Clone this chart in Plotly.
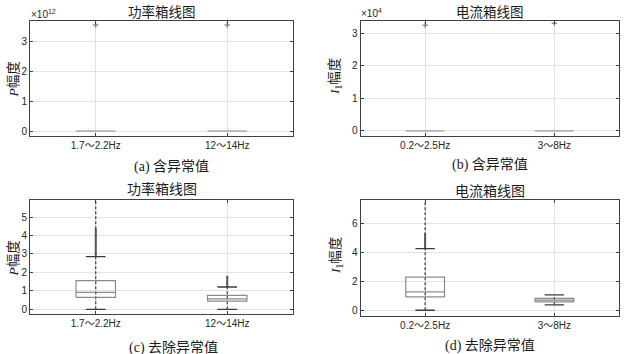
import plotly.graph_objects as go

# ---------------- data ----------------
p_categories = ["1.7～2.2Hz", "12～14Hz"]
i_categories = ["0.2～2.5Hz", "3～8Hz"]

# (a) power with outliers (axis scaled x1e12)
p_raw_q1 = [0.65, 0.44]
p_raw_med = [0.92, 0.57]
p_raw_q3 = [1.55, 0.76]
p_raw_lower = [0.0, 0.0]
p_raw_upper = [2.85, 1.21]
p_raw_outliers = [3.56e12, 3.56e12]

# (b) current with outliers (axis scaled x1e4)
i_raw_q1 = [0.92, 0.58]
i_raw_med = [1.27, 0.70]
i_raw_q3 = [2.30, 0.82]
i_raw_lower = [0.0, 0.37]
i_raw_upper = [4.27, 1.06]
i_raw_outliers = [3.25e4, 3.31e4]

# (c) power, outliers removed
p_q1 = [0.65, 0.44]
p_med = [0.92, 0.57]
p_q3 = [1.55, 0.76]
p_lower = [0.0, 0.0]
p_upper = [2.85, 1.21]
p_dense_max = [4.40, 1.82]
p_out_max = [6.10, 1.82]

# (d) current, outliers removed
i_q1 = [0.92, 0.58]
i_med = [1.27, 0.70]
i_q3 = [2.30, 0.82]
i_lower = [0.0, 0.37]
i_upper = [4.27, 1.06]
i_dense_max = [5.34, None]
i_out_max = [7.80, None]

xpos = [1, 2]

W, H = 624, 354
def px(x):
    return x / W
def py(y):
    return 1 - y / H

fig = go.Figure()

BOX_C = "#8a8a8a"
DARK = "#3a3a3a"
HALF_BOX = 0.15
HALF_CAP = 0.075


def add_boxes(xa, ya, q1, med, q3, lo, hi, dense_max=None, out_max=None):
    xs, ys = [], []
    for c, l, h, om in zip(xpos, lo, hi, out_max or [None] * 2):
        top = om if om is not None else h
        xs += [c, c, None]
        ys += [l, top, None]
    fig.add_trace(go.Scatter(x=xs, y=ys, mode="lines", xaxis=xa, yaxis=ya,
                             line=dict(color=DARK, width=1.2, dash="3px,2px"),
                             hoverinfo="skip", showlegend=False))
    if dense_max is not None:
        xs, ys = [], []
        for c, h, d in zip(xpos, hi, dense_max):
            if d is None:
                continue
            xs += [c, c, None]
            ys += [h, d, None]
        fig.add_trace(go.Scatter(x=xs, y=ys, mode="lines", xaxis=xa, yaxis=ya,
                                 line=dict(color="#555555", width=2),
                                 hoverinfo="skip", showlegend=False))
    xs, ys = [], []
    for c, a, b in zip(xpos, q1, q3):
        xs += [c - HALF_BOX, c + HALF_BOX, c + HALF_BOX, c - HALF_BOX, c - HALF_BOX, None]
        ys += [a, a, b, b, a, None]
    fig.add_trace(go.Scatter(x=xs, y=ys, mode="lines", xaxis=xa, yaxis=ya,
                             line=dict(color=BOX_C, width=1.2),
                             hoverinfo="skip", showlegend=False))
    xs, ys = [], []
    for c, m in zip(xpos, med):
        xs += [c - HALF_BOX, c + HALF_BOX, None]
        ys += [m, m, None]
    fig.add_trace(go.Scatter(x=xs, y=ys, mode="lines", xaxis=xa, yaxis=ya,
                             line=dict(color=BOX_C, width=1.2),
                             hoverinfo="skip", showlegend=False))
    xs, ys = [], []
    for c, l, h in zip(xpos, lo, hi):
        xs += [c - HALF_CAP, c + HALF_CAP, None, c - HALF_CAP, c + HALF_CAP, None]
        ys += [l, l, None, h, h, None]
    fig.add_trace(go.Scatter(x=xs, y=ys, mode="lines", xaxis=xa, yaxis=ya,
                             line=dict(color=DARK, width=1.3),
                             hoverinfo="skip", showlegend=False))


def add_raw(xa, ya, q1, med, q3, lo, hi, outliers):
    xs, ys = [], []
    for c, a, b in zip(xpos, q1, q3):
        xs += [c - HALF_BOX, c + HALF_BOX, c + HALF_BOX, c - HALF_BOX, c - HALF_BOX, None]
        ys += [a, a, b, b, a, None]
    fig.add_trace(go.Scatter(x=xs, y=ys, mode="lines", xaxis=xa, yaxis=ya,
                             line=dict(color=BOX_C, width=1.2),
                             hoverinfo="skip", showlegend=False))
    fig.add_trace(go.Scatter(x=xpos, y=outliers, mode="markers", xaxis=xa, yaxis=ya,
                             marker=dict(symbol="cross-thin", size=4,
                                         line=dict(color="#666666", width=1)),
                             hoverinfo="skip", showlegend=False))


add_raw("x", "y", p_raw_q1, p_raw_med, p_raw_q3, p_raw_lower, p_raw_upper, p_raw_outliers)
add_raw("x2", "y2", i_raw_q1, i_raw_med, i_raw_q3, i_raw_lower, i_raw_upper, i_raw_outliers)
add_boxes("x3", "y3", p_q1, p_med, p_q3, p_lower, p_upper, p_dense_max, p_out_max)
add_boxes("x4", "y4", i_q1, i_med, i_q3, i_lower, i_upper, i_dense_max, i_out_max)

tickfont = dict(family="Liberation Sans, Arial, Noto Sans CJK SC", size=10, color="#262626")
common_axis = dict(showline=True, linecolor="#404040", linewidth=1, mirror="ticks",
                   ticks="inside", ticklen=3, tickcolor="#404040",
                   showgrid=True, gridcolor="#e3e3e3", gridwidth=1,
                   zeroline=False, tickfont=tickfont)

xa_dom = [px(30), px(293)]
xb_dom = [px(360.5), px(619)]

fig.update_layout(
    width=W, height=H,
    margin=dict(l=0, r=0, t=0, b=0),
    paper_bgcolor="white", plot_bgcolor="white",
    showlegend=False,
    xaxis=dict(domain=xa_dom, anchor="y", range=[0.5, 2.5], tickvals=xpos,
               ticktext=p_categories, **common_axis),
    yaxis=dict(domain=[py(136), py(20.7)], anchor="x", range=[-0.168e12, 3.705e12],
               tickvals=[0, 1e12, 2e12, 3e12], ticktext=["0", "1", "2", "3"], **common_axis),
    xaxis2=dict(domain=xb_dom, anchor="y2", range=[0.5, 2.5], tickvals=xpos,
                ticktext=i_categories, **common_axis),
    yaxis2=dict(domain=[py(136), py(20.7)], anchor="x2", range=[-0.154e4, 3.387e4],
                tickvals=[0, 1e4, 2e4, 3e4], ticktext=["0", "1", "2", "3"], **common_axis),
    xaxis3=dict(domain=xa_dom, anchor="y3", range=[0.5, 2.5], tickvals=xpos,
                ticktext=p_categories, **common_axis),
    yaxis3=dict(domain=[py(314.3), py(199.7)], anchor="x3", range=[-0.27, 5.94],
                tickvals=[0, 1, 2, 3, 4, 5], **common_axis),
    xaxis4=dict(domain=xb_dom, anchor="y4", range=[0.5, 2.5], tickvals=xpos,
                ticktext=i_categories, **common_axis),
    yaxis4=dict(domain=[py(316.3), py(199.7)], anchor="x4", range=[-0.42, 7.66],
                tickvals=[0, 2, 4, 6], **common_axis),
)

cjk = "Noto Sans CJK SC"
serif = "Liberation Serif, Noto Sans CJK SC"
ann = []
# top titles anchored at top edge so they are not clipped
for txt, x in [("功率箱线图", 161.5), ("电流箱线图", 489.5)]:
    ann.append(dict(text=txt, x=px(x), y=1.0, xref="paper", yref="paper",
                    xanchor="center", yanchor="top", showarrow=False, borderpad=0,
                    font=dict(family=cjk, size=13.5, color="#1a1a1a")))
for txt, x, y in [("功率箱线图", 161.5, 188), ("电流箱线图", 489.5, 189.5)]:
    ann.append(dict(text=txt, x=px(x), y=py(y), xref="paper", yref="paper",
                    xanchor="center", yanchor="middle", showarrow=False,
                    font=dict(family=cjk, size=14, color="#1a1a1a")))
for txt, x, y in [("(a) 含异常值", 171, 166.5), ("(b) 含异常值", 489.5, 165.5),
                  ("(c) 去除异常值", 173, 347.5), ("(d) 去除异常值", 489.5, 346)]:
    ann.append(dict(text=txt, x=px(x), y=py(y), xref="paper", yref="paper",
                    xanchor="center", yanchor="middle", showarrow=False,
                    font=dict(family=serif, size=14, color="#1a1a1a")))
for txt, x, y in [("<i>P</i>幅度", 12.5, 80), ("<i>I</i><sub>1</sub>幅度", 336, 77),
                  ("<i>P</i>幅度", 12.5, 259), ("<i>I</i><sub>1</sub>幅度", 336, 256)]:
    ann.append(dict(text=txt, x=px(x), y=py(y), xref="paper", yref="paper",
                    xanchor="center", yanchor="middle", showarrow=False, textangle=-90,
                    font=dict(family=serif, size=13.5, color="#1a1a1a")))
for txt, x, y in [("×10<sup>12</sup>", 29, 14), ("×10<sup>4</sup>", 358.5, 13)]:
    ann.append(dict(text=txt, x=px(x), y=py(y), xref="paper", yref="paper",
                    xanchor="left", yanchor="middle", showarrow=False,
                    font=dict(family="Liberation Sans, Arial", size=10, color="#262626")))

fig.update_layout(annotations=ann)

fig.write_html("out.html")
